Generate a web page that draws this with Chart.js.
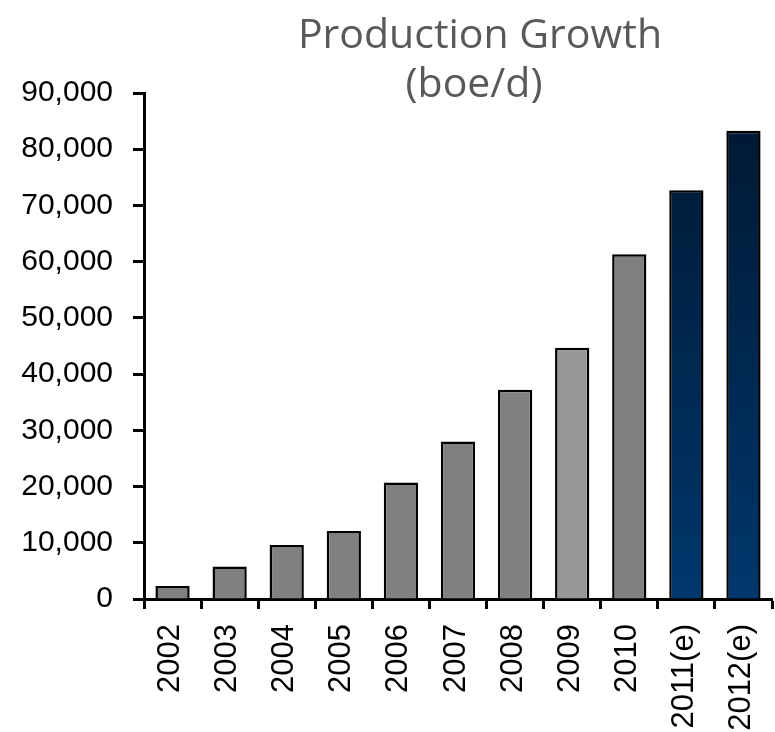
<!DOCTYPE html>
<html>
<head>
<meta charset="utf-8">
<script src="https://cdn.jsdelivr.net/npm/chart.js@4/dist/chart.umd.min.js"></script>
<style>
  html, body { margin: 0; padding: 0; background: #fff; }
  #wrap { width: 775px; height: 732px; position: relative; }
</style>
</head>
<body>
<div id="wrap"><canvas id="prodChart"></canvas></div>
<script>
// chart data
let years = ['2002', '2003', '2004', '2005', '2006', '2007', '2008', '2009', '2010', '2011(e)', '2012(e)'];
let production = [2300, 5800, 9600, 12100, 20700, 28000, 37200, 44700, 61300, 72700, 83300];
let estimated = [false, false, false, false, false, false, false, false, false, true, true];
let titleLines = ['Production Growth', '(boe/d)'];

// gray for actuals, 2009 a bit lighter, navy gradient for estimates
function barColor(ctx) {
    let i = ctx.dataIndex;
    if (!estimated[i]) {
        return i === 7 ? '#979797' : '#808080';
    }
    let area = ctx.chart.chartArea;
    if (!area) return '#002a55';
    let g = ctx.chart.ctx.createLinearGradient(0, area.top, 0, area.bottom);
    g.addColorStop(0, '#001730');
    g.addColorStop(1, '#00376d');
    return g;
}

// title is drawn by hand so it can sit over the plot like in the original
const titlePlugin = {
    id: 'titleText',
    afterDraw(chart) {
        let c = chart.ctx;
        c.save();
        c.fillStyle = '#595959';
        c.font = '41px "Open Sans"';
        c.textAlign = 'center';
        c.textBaseline = 'alphabetic';
        c.fillText(titleLines[0], 480, 48);
        c.fillText(titleLines[1], 474, 97);
        c.restore();
    }
};

const ctx = document.getElementById('prodChart').getContext('2d');
let myChart = new Chart(ctx, {
    type: 'bar',
    data: {
        labels: years,
        datasets: [{
            data: production,
            backgroundColor: barColor,
            borderColor: '#000',
            borderWidth: 2.5,
            borderSkipped: 'bottom',
            barPercentage: 0.6,
            categoryPercentage: 1
        }]
    },
    options: {
        responsive: true,
        maintainAspectRatio: false,
        animation: false,
        layout: { padding: { top: 93, right: 3, left: 0, bottom: 0 } },
        plugins: {
            legend: { display: false },
            tooltip: { enabled: false }
        },
        scales: {
            x: {
                afterFit: (s) => {
                    s.height = 133;
                    // rotated last label would otherwise push the plot in
                    s.paddingRight = 0;
                    s.paddingLeft = 0;
                },
                border: { color: '#000', width: 3 },
                grid: {
                    drawOnChartArea: false,
                    tickLength: 10,
                    tickColor: '#000',
                    tickWidth: 3
                },
                ticks: {
                    color: '#000',
                    font: { family: 'Liberation Sans', size: 31 },
                    minRotation: 90,
                    maxRotation: 90,
                    padding: 15,
                    labelOffset: -2,
                    autoSkip: false
                }
            },
            y: {
                min: 0,
                max: 90000,
                afterFit: (s) => { s.width = 144; },
                border: { color: '#000', width: 3 },
                grid: {
                    drawOnChartArea: false,
                    tickLength: 11,
                    tickColor: '#000',
                    tickWidth: 3
                },
                ticks: {
                    stepSize: 10000,
                    color: '#000',
                    font: { family: 'Liberation Sans', size: 30 },
                    padding: 20,
                    callback: (v) => v.toLocaleString('en-US')
                }
            }
        }
    },
    plugins: [titlePlugin]
});
</script>
</body>
</html>
